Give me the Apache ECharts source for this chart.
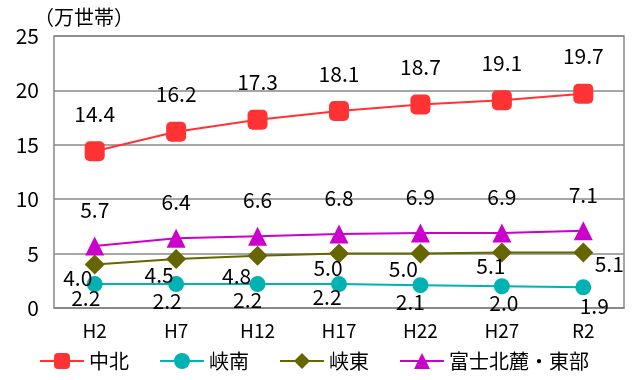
<!DOCTYPE html>
<html>
<head>
<meta charset="utf-8">
<script src="https://cdn.jsdelivr.net/npm/echarts@6/dist/echarts.min.js"></script>
<style>
  html, body { margin: 0; padding: 0; background: #fff; }
  #chart { width: 641px; height: 380px; }
</style>
</head>
<body>
<div id="chart"></div>
<script>
// 地域別世帯数の推移（単位：万世帯）
const categories = ['H2', 'H7', 'H12', 'H17', 'H22', 'H27', 'R2'];
const yTicks = [0, 5, 10, 15, 20, 25];

const chuhoku = [14.4, 16.2, 17.3, 18.1, 18.7, 19.1, 19.7];
const kyonan = [2.2, 2.2, 2.2, 2.2, 2.1, 2.0, 1.9];
const kyoto = [4.0, 4.5, 4.8, 5.0, 5.0, 5.1, 5.1];
const fuji = [5.7, 6.4, 6.6, 6.8, 6.9, 6.9, 7.1];

const FONT = '"Noto Sans CJK JP", sans-serif';

// per-point label offsets for the two lower series
const kyonanOffsets = [[-9, 14], [-9, 17], [-10, 16], [-12, 13], [-10, 17], [2, 17], [11, 19]];
const kyotoOffsets = [[-17, 14], [-17, 16], [-21, 20], [-11, 14], [-17, 15], [-11, 14], [26, 12]];

function withOffsets(values, offsets) {
  return values.map((v, i) => ({ value: v, label: { offset: offsets[i] } }));
}

const labelBase = {
  show: true,
  fontSize: 21,
  fontFamily: FONT,
  color: '#000',
  formatter: p => p.value.toFixed(1)
};

const chart = echarts.init(document.getElementById('chart'), null, { renderer: 'canvas' });
chart.setOption({
  animation: false,
  grid: { left: 54, right: 17, top: 36, bottom: 72, show: true, borderColor: '#888', borderWidth: 1.5 },
  xAxis: {
    type: 'category',
    data: categories,
    boundaryGap: true,
    axisLine: { lineStyle: { color: '#888', width: 1.5 } },
    axisTick: { show: false },
    axisLabel: { fontSize: 19, fontFamily: FONT, color: '#000', margin: 13 }
  },
  yAxis: {
    type: 'value',
    min: yTicks[0],
    max: yTicks[yTicks.length - 1],
    interval: 5,
    axisLine: { show: false },
    axisTick: { show: false },
    splitLine: { lineStyle: { color: '#888', width: 1.5 } },
    axisLabel: { fontSize: 21, fontFamily: FONT, color: '#000', margin: 15 }
  },
  legend: {
    bottom: 4,
    left: 34,
    itemWidth: 44,
    itemHeight: 20,
    itemGap: 30,
    textStyle: { fontSize: 20, fontFamily: FONT, color: '#000' },
    data: ['中北', '峡南', '峡東', '富士北麓・東部']
  },
  graphic: [{
    type: 'text',
    left: 34,
    top: 7,
    style: { text: '（万世帯）', fontSize: 20, fontFamily: FONT, fill: '#000' }
  }],
  series: [
    {
      name: '中北', type: 'line', data: chuhoku,
      symbol: 'roundRect', symbolSize: 20,
      itemStyle: { color: '#ff3333' }, lineStyle: { color: '#ff3333', width: 2 },
      label: Object.assign({}, labelBase, { position: 'top', distance: 17 })
    },
    {
      name: '峡南', type: 'line', data: withOffsets(kyonan, kyonanOffsets),
      symbol: 'circle', symbolSize: 16,
      itemStyle: { color: '#00b2b2' }, lineStyle: { color: '#00b2b2', width: 2 },
      label: Object.assign({}, labelBase, { position: 'inside' })
    },
    {
      name: '峡東', type: 'line', data: withOffsets(kyoto, kyotoOffsets),
      symbol: 'diamond', symbolSize: 20,
      itemStyle: { color: '#666600' }, lineStyle: { color: '#666600', width: 2 },
      label: Object.assign({}, labelBase, { position: 'inside' })
    },
    {
      name: '富士北麓・東部', type: 'line', data: fuji,
      symbol: 'triangle', symbolSize: 19,
      itemStyle: { color: '#cc00cc' }, lineStyle: { color: '#cc00cc', width: 2 },
      label: Object.assign({}, labelBase, { position: 'top', distance: 16 })
    }
  ]
});
</script>
</body>
</html>
